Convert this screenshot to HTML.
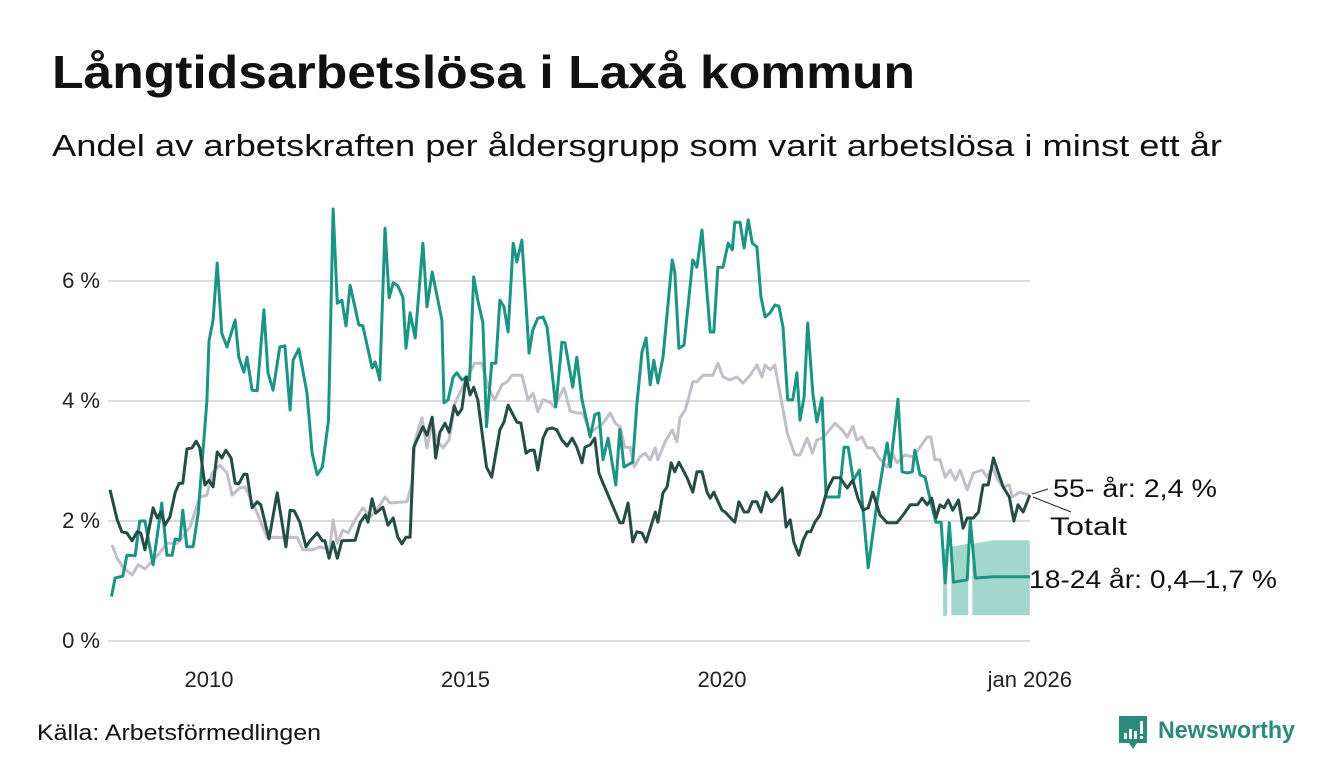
<!DOCTYPE html>
<html><head><meta charset="utf-8">
<style>
body{margin:0;background:#fff;width:1340px;height:780px;overflow:hidden;font-family:"Liberation Sans",sans-serif;}
svg{display:block}
</style></head>
<body>
<svg id="chart" width="1340" height="780" xmlns="http://www.w3.org/2000/svg">
<text x="52" y="88" font-size="46" font-weight="bold" fill="#111" textLength="863" lengthAdjust="spacingAndGlyphs">Långtidsarbetslösa i Laxå kommun</text>
<text x="52" y="156" font-size="31" fill="#111" textLength="1170" lengthAdjust="spacingAndGlyphs">Andel av arbetskraften per åldersgrupp som varit arbetslösa i minst ett år</text>
<g id="grid"></g>
<g id="yticks"></g>
<g id="xticks"></g>
<g id="series"></g>
<line x1="1032" y1="494" x2="1048" y2="489" stroke="#222" stroke-width="1"/>
<line x1="1033" y1="497" x2="1071" y2="512" stroke="#222" stroke-width="1"/>
<text x="1053" y="497" font-size="25" fill="#111" textLength="164" lengthAdjust="spacingAndGlyphs">55- år: 2,4 %</text>
<text x="1050" y="535" font-size="25" fill="#111" textLength="77" lengthAdjust="spacingAndGlyphs">Totalt</text>
<text x="1029" y="588" font-size="25" fill="#111" textLength="248" lengthAdjust="spacingAndGlyphs">18-24 år: 0,4–1,7 %</text>
<text x="37" y="740" font-size="22" fill="#111" textLength="284" lengthAdjust="spacingAndGlyphs">Källa: Arbetsförmedlingen</text>
<g>
<path d="M1119 716 h28 v27 h-10 l-4 6 l-4 -6 h-10 z" fill="#2a8a7c"/>
<rect x="1124" y="733" width="3" height="6" fill="#fff"/>
<rect x="1129" y="729" width="3" height="10" fill="#fff"/>
<rect x="1134" y="731" width="3" height="8" fill="#fff"/>
<rect x="1140" y="721" width="3" height="13" fill="#fff"/>
<rect x="1140" y="736" width="3" height="3" fill="#fff"/>
<text x="1158" y="738" font-size="24" font-weight="bold" fill="#2a8a7c" textLength="137" lengthAdjust="spacingAndGlyphs">Newsworthy</text>
</g>
</svg>
<script>
// years since 2008 + values (%)
const teal_t=[0.10,0.17,0.32,0.40,0.56,0.65,0.75,0.91,1.08,1.18,1.28,1.34,1.43,1.49,1.57,1.69,1.79,1.96,2.00,2.08,2.16,2.25,2.35,2.51,2.58,2.68,2.74,2.84,2.94,3.07,3.15,3.25,3.38,3.48,3.58,3.64,3.75,3.91,4.01,4.11,4.21,4.33,4.42,4.50,4.59,4.67,4.75,4.92,5.00,5.18,5.24,5.33,5.43,5.51,5.59,5.68,5.78,5.84,5.92,6.02,6.17,6.25,6.35,6.54,6.58,6.66,6.76,6.83,6.93,7.03,7.08,7.16,7.24,7.34,7.41,7.51,7.59,7.67,7.75,7.83,7.93,8.00,8.10,8.24,8.31,8.41,8.51,8.59,8.76,8.88,8.94,9.09,9.17,9.27,9.43,9.52,9.60,9.68,9.78,9.93,10.01,10.09,10.26,10.34,10.44,10.52,10.60,10.67,10.75,10.85,11.03,11.08,11.16,11.26,11.43,11.51,11.61,11.77,11.84,11.92,12.02,12.12,12.20,12.25,12.35,12.43,12.51,12.59,12.68,12.76,12.84,12.94,13.03,13.11,13.19,13.28,13.38,13.46,13.52,13.60,13.67,13.77,13.85,13.95,14.03,14.28,14.38,14.46,14.56,14.68,14.85,15.03,15.15,15.22,15.28,15.43,15.51,15.61,15.71,15.76,15.86,15.96,16.06,16.17,16.27,16.35,16.43,16.51,16.78,16.84,16.94,17.29,18.00];
const teal_v=[0.74,1.05,1.08,1.43,1.42,2.0,2.0,1.27,2.3,1.43,1.43,1.7,1.68,2.18,1.57,1.57,2.13,4.0,5.0,5.35,6.3,5.13,4.9,5.35,4.73,4.48,4.73,4.18,4.17,5.52,4.47,4.18,4.9,4.92,3.85,4.68,4.87,4.13,3.13,2.77,2.9,3.68,7.2,5.63,5.68,5.25,5.93,5.27,5.25,4.55,4.65,4.35,6.88,5.72,5.97,5.92,5.73,4.88,5.47,5.05,6.63,5.57,6.15,5.35,3.97,4.02,4.4,4.47,4.35,4.4,4.35,6.07,5.68,5.3,3.57,4.63,4.63,5.68,5.57,5.15,6.63,6.32,6.68,4.8,5.18,5.38,5.4,5.23,3.9,4.98,4.97,4.23,4.73,4.02,3.4,3.77,3.8,3.02,3.38,2.6,3.53,2.9,2.98,3.93,4.82,5.05,4.27,4.68,4.3,4.73,6.35,6.15,4.88,4.93,6.35,6.23,6.85,5.15,5.15,6.23,6.23,6.63,6.52,6.98,6.98,6.55,7.02,6.63,6.57,5.73,5.4,5.47,5.6,5.58,5.23,4.02,4.02,4.47,3.68,4.07,5.3,4.13,3.65,4.05,2.4,2.4,3.23,3.23,2.68,2.85,1.22,2.35,2.97,3.3,2.9,4.03,2.82,2.8,2.82,3.18,2.77,2.73,2.35,1.98,1.98,0.97,1.97,0.98,1.02,2.02,1.05,1.07,1.07];
const total_t=[0.07,0.21,0.30,0.40,0.50,0.60,0.67,0.75,0.91,0.99,1.06,1.14,1.24,1.34,1.42,1.49,1.57,1.67,1.75,1.82,1.92,2.00,2.08,2.16,2.25,2.33,2.43,2.51,2.58,2.68,2.74,2.84,2.94,3.01,3.17,3.33,3.50,3.58,3.66,3.77,3.89,3.97,4.11,4.21,4.26,4.34,4.42,4.50,4.59,4.85,4.95,5.05,5.10,5.18,5.25,5.39,5.49,5.59,5.68,5.76,5.84,5.92,5.99,6.07,6.17,6.25,6.35,6.42,6.50,6.60,6.68,6.78,6.85,6.93,7.01,7.09,7.16,7.24,7.41,7.51,7.67,7.75,7.83,8.00,8.08,8.18,8.26,8.34,8.41,8.51,8.59,8.69,8.78,8.88,8.98,9.08,9.17,9.27,9.33,9.43,9.52,9.60,9.68,10.01,10.07,10.17,10.26,10.34,10.44,10.52,10.70,10.75,10.85,10.93,11.01,11.08,11.16,11.32,11.43,11.51,11.61,11.71,11.77,11.84,12.00,12.06,12.20,12.25,12.33,12.43,12.51,12.59,12.68,12.76,12.86,12.96,13.03,13.17,13.25,13.33,13.40,13.50,13.58,13.66,13.73,13.81,13.91,14.05,14.17,14.30,14.44,14.55,14.65,14.75,14.85,14.94,15.08,15.22,15.41,15.53,15.67,15.81,15.90,16.00,16.09,16.17,16.25,16.33,16.41,16.50,16.61,16.70,16.78,16.90,17.00,17.09,17.19,17.29,17.38,17.48,17.60,17.69,17.77,17.87,18.00];
const total_v=[2.52,2.02,1.82,1.8,1.67,1.82,1.8,1.52,2.22,2.05,2.15,1.93,2.07,2.47,2.63,2.63,3.2,3.22,3.33,3.22,2.6,2.68,2.57,3.15,3.05,3.18,3.05,2.63,2.62,2.78,2.78,2.22,2.32,2.27,1.7,2.47,1.57,2.18,2.17,1.98,1.57,1.67,1.8,1.67,1.67,1.38,1.65,1.38,1.67,1.68,1.98,2.1,1.98,2.37,2.13,2.23,1.93,2.05,1.73,1.62,1.73,1.73,3.23,3.38,3.57,3.43,3.73,3.05,3.48,3.63,3.48,3.92,3.77,3.87,4.4,4.1,4.23,4.02,2.9,2.73,3.52,3.65,3.93,3.65,3.63,3.13,3.18,3.18,2.85,3.38,3.53,3.55,3.52,3.35,3.25,3.38,3.23,2.97,3.23,3.27,3.38,2.8,2.63,1.97,1.97,2.3,1.65,1.82,1.8,1.65,2.15,1.98,2.47,2.57,2.97,2.82,2.98,2.72,2.48,2.82,2.82,2.48,2.38,2.48,2.18,2.15,2.02,1.98,2.32,2.15,2.15,2.32,2.32,2.15,2.48,2.32,2.38,2.55,1.9,2.02,1.65,1.43,1.68,1.82,1.82,1.98,2.1,2.52,2.72,2.72,2.55,2.68,2.38,2.18,2.22,2.48,2.1,1.97,1.97,2.1,2.27,2.27,2.38,2.27,2.38,2.05,2.27,2.22,2.35,2.18,2.35,1.88,2.05,2.05,2.15,2.6,2.6,3.05,2.82,2.57,2.4,2.0,2.27,2.15,2.43];
const senior_t=[0.11,0.21,0.32,0.50,0.62,0.75,0.91,1.04,1.18,1.38,1.63,1.82,1.96,2.06,2.21,2.35,2.45,2.60,2.70,2.94,3.13,3.25,3.52,3.72,3.83,4.03,4.16,4.35,4.42,4.50,4.61,4.71,4.85,5.00,5.14,5.27,5.43,5.53,5.86,5.96,6.02,6.15,6.25,6.35,6.44,6.56,6.68,6.80,6.99,7.18,7.32,7.44,7.57,7.71,7.81,7.91,8.10,8.22,8.32,8.41,8.51,8.65,8.73,8.80,8.92,9.04,9.17,9.29,9.43,9.56,9.68,9.82,9.92,10.01,10.11,10.21,10.29,10.40,10.50,10.60,10.70,10.75,10.89,11.03,11.12,11.18,11.28,11.34,11.43,11.51,11.63,11.82,11.92,12.02,12.15,12.29,12.41,12.55,12.68,12.78,12.84,12.94,13.03,13.13,13.27,13.42,13.52,13.66,13.76,13.85,13.95,14.05,14.20,14.34,14.44,14.55,14.63,14.73,14.83,14.94,15.04,15.22,15.32,15.41,15.57,15.73,15.86,16.00,16.07,16.15,16.25,16.35,16.45,16.55,16.64,16.78,16.90,17.07,17.17,17.27,17.38,17.48,17.60,17.66,17.80,18.00];
const senior_v=[1.6,1.38,1.23,1.1,1.27,1.2,1.35,1.47,1.63,1.63,1.9,2.4,2.43,2.8,2.93,2.8,2.43,2.55,2.57,2.13,1.73,1.73,1.72,1.73,1.52,1.52,1.57,1.52,2.02,1.63,1.85,1.8,2.02,2.22,2.07,2.18,2.4,2.3,2.32,2.63,3.35,3.72,3.22,3.65,3.35,3.22,3.35,3.97,4.32,4.63,4.63,4.23,4.02,4.27,4.32,4.43,4.43,4.02,4.13,3.82,4.02,3.98,3.9,4.02,4.22,3.83,3.8,3.8,3.47,3.55,3.63,3.8,3.63,3.57,3.23,3.23,2.9,3.07,3.13,3.02,3.22,3.02,3.32,3.52,3.32,3.72,3.85,4.02,4.32,4.32,4.43,4.43,4.63,4.4,4.35,4.4,4.3,4.43,4.6,4.4,4.6,4.52,4.6,4.13,3.47,3.1,3.1,3.38,3.13,3.35,3.38,3.47,3.63,3.52,3.4,3.58,3.35,3.4,3.22,3.22,3.07,2.9,3.13,2.97,3.1,3.07,3.23,3.4,3.4,3.02,3.02,2.73,2.85,2.68,2.85,2.52,2.8,2.85,2.73,2.9,2.68,2.57,2.6,2.4,2.48,2.43];
// uncertainty band for 18-24 (null breaks segments)
const band_t=[16.31,16.39,null,16.47,16.80,null,16.88,17.29,18.00];
const band_lo=[0.42,0.42,null,0.43,0.43,null,0.43,0.43,0.43];
const band_hi=[1.52,1.55,null,1.57,1.62,null,1.62,1.68,1.68];
const yTicks=[0,2,4,6];
const yTickLabels=["0 %","2 %","4 %","6 %"];
const xTicks=[2010,2015,2020,2026];
const xTickLabels=["2010","2015","2020","jan 2026"];

const NS="http://www.w3.org/2000/svg";
const X0=106.4, PXY=51.3, Y0=641, PXV=60;
function xs(year){return X0+(year-2008)*PXY;}
function xt(t){return xs(2008+t);}
function ys(v){return Y0-v*PXV;}
function mk(tag,attrs,parent){const e=document.createElementNS(NS,tag);for(const k in attrs)e.setAttribute(k,attrs[k]);parent.appendChild(e);return e;}

const grid=document.getElementById('grid'),yg=document.getElementById('yticks'),xg=document.getElementById('xticks'),sg=document.getElementById('series');
yTicks.forEach((v,i)=>{
  const l=mk('line',{x1:108,x2:1030,y1:ys(v),y2:ys(v),stroke:'#dcdcdc','stroke-width':2},grid);
  
  
  const t=mk('text',{x:100,y:ys(v)+7,'text-anchor':'end','font-size':22,fill:'#222'},yg);
  t.textContent=yTickLabels[i];
  
  
});
xTicks.forEach((yr,i)=>{
  const t=mk('text',{x:xs(yr),y:687,'text-anchor':'middle','font-size':22,fill:'#222'},xg);
  t.textContent=xTickLabels[i];
  
  
});
// band
let segs=[],cur=[];
band_t.forEach((t,i)=>{if(t===null){segs.push(cur);cur=[];}else cur.push(i);});
segs.push(cur);
segs.forEach(s=>{
  let d='';
  s.forEach((i,k)=>{d+=(k?'L':'M')+xt(band_t[i])+' '+ys(band_hi[i]);});
  s.slice().reverse().forEach(i=>{d+='L'+xt(band_t[i])+' '+ys(band_lo[i]);});
  const p=mk('path',{d:d+'Z',fill:'#a3d6cd'},sg);
  
  
});
function line(ts,vs,color,name){
  const d=ts.map((t,i)=>(i?'L':'M')+xt(t).toFixed(1)+' '+ys(vs[i]).toFixed(1)).join('');
  const p=mk('path',{d:d,fill:'none',stroke:color,'stroke-width':3,'stroke-linejoin':'round'},sg);
  
  
}
line(senior_t,senior_v,'#c3bfca','line-55-plus');
line(teal_t,teal_v,'#1a9483','line-18-24');
line(total_t,total_v,'#234d45','line-totalt');
</script>
</body></html>
